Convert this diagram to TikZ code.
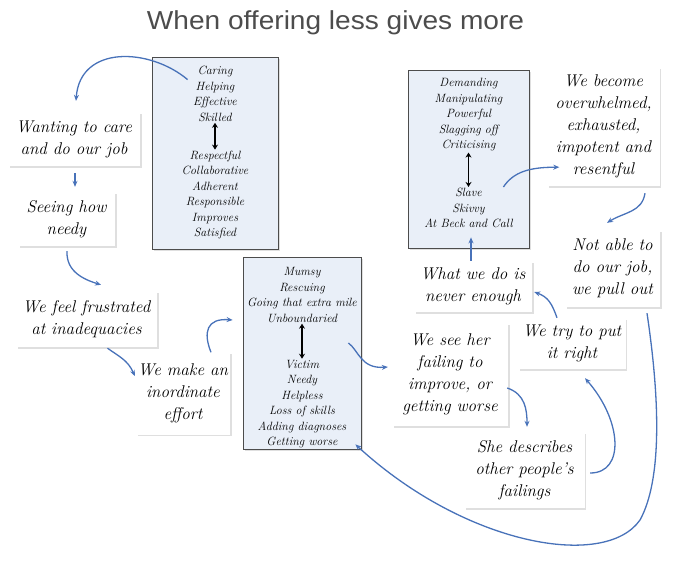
\documentclass[tikz,border=0pt]{standalone}
\usepackage{fontspec}
\newfontfamily\titlefont{Liberation Sans}[FakeStretch=1.08]
\usetikzlibrary{arrows.meta,shadows}
\definecolor{linkblue}{RGB}{72,114,185}
\definecolor{rolefill}{RGB}{233,239,248}

\begin{document}
\begin{tikzpicture}[x=1pt,y=1pt,
  card/.style={fill=white, drop shadow={shadow xshift=1.5pt, shadow yshift=-1.5pt, opacity=0.25}, align=center, inner sep=0pt, font=\fontsize{17}{22}\selectfont\itshape},
  rolebox/.style={draw=black!70, line width=0.8pt, fill=rolefill, drop shadow={shadow xshift=1.5pt, shadow yshift=-1.5pt, opacity=0.25}, inner sep=0pt},
  rolelist/.style={align=center, inner sep=0pt, font=\fontsize{12}{15.5}\selectfont\itshape},
  flip/.style={{Stealth[length=5pt,width=6pt]}-{Stealth[length=5pt,width=6pt]}, line width=1.3pt, shorten <=1pt, shorten >=1pt},
  link/.style={-{Stealth[length=6pt,width=5pt]}, draw=linkblue, line width=1.3pt}]
\useasboundingbox (0,0) rectangle (679,-570);
\node[anchor=base, font=\titlefont\fontsize{26}{30}\selectfont, text=black!70] (title) at (335.5,-29) {When offering less gives more};

% role boxes
\node[rolebox, minimum width=126, minimum height=192] (box1) at (215,-153) {};
\node[rolebox, minimum width=118, minimum height=192] (box2) at (302,-353) {};
\node[rolebox, minimum width=121, minimum height=178] (box3) at (468.5,-159) {};
\node[rolelist] (care1) at (215,-94) {Caring\\Helping\\Effective\\Skilled};
\node[rolelist] (care2) at (215,-195) {Respectful\\Collaborative\\Adherent\\Responsible\\Improves\\Satisfied};
\node[rolelist] (rescue1) at (302,-295) {Mumsy\\Rescuing\\Going that extra mile\\Unboundaried};
\node[rolelist] (rescue2) at (302,-404) {Victim\\Needy\\Helpless\\Loss of skills\\Adding diagnoses\\Getting worse};
\node[rolelist] (demand1) at (468.5,-115) {Demanding\\Manipulating\\Powerful\\Slagging off\\Criticising};
\node[rolelist] (demand2) at (468.5,-208) {Slave\\Skivvy\\At Beck and Call};
\draw[flip] (care1.south) -- (care2.north);
\draw[flip] (rescue1.south) -- (rescue2.north);
\draw[flip] (demand1.south) -- (demand2.north);

% steps of the cycle
\node[card, minimum width=132, minimum height=54] (want) at (74,-139) {Wanting to care\\and do our job};
\node[card, minimum width=97, minimum height=54] (seeing) at (66.5,-219) {Seeing how\\needy};
\node[card, minimum width=141, minimum height=56] (frust) at (86.5,-319) {We feel frustrated\\at inadequacies};
\node[card, minimum width=94, minimum height=82] (effort) at (183,-393.5) {We make an\\inordinate\\effort};
\node[card, minimum width=116, minimum height=103] (seeher) at (450,-374.5) {We see her\\failing to\\improve, or\\getting worse};
\node[card, minimum width=120, minimum height=76] (describes) at (524.5,-470) {She describes\\other people's\\failings};
\node[card, minimum width=107, minimum height=51] (tryput) at (572,-343.5) {We try to put\\it right};
\node[card, minimum width=118, minimum height=51] (never) at (473,-286.5) {What we do is\\never enough};
\node[card, minimum width=112, minimum height=119] (overwh) at (603.5,-126.5) {We become\\overwhelmed,\\exhausted,\\impotent and\\resentful};
\node[card, minimum width=95, minimum height=77] (notable) at (612.5,-268.5) {Not able to\\do our job,\\we pull out};

% links
\draw[link] ([shift={(36,-23)}]box1.north west) .. controls +(-38,32) and +(4,56) .. ([shift={(2,11)}]want.north);
\draw[link] ([shift={(1,-7)}]want.south) -- ([shift={(8.5,5)}]seeing.north);
\draw[link] ([shift={(0.5,-5)}]seeing.south) .. controls +(-1,-21) and +(-16,5) .. ([shift={(14.5,6)}]frust.north);
\draw[link] ([shift={(21,-1)}]frust.south) .. controls +(11,-8) and +(-7,16) .. ([shift={(-1,17.5)}]effort.west);
\draw[link] ([shift={(28,0)}]effort.north) .. controls +(-8,20) and +(-26,2) .. ([shift={(-10,33)}]box2.west);
\draw[link] ([shift={(-13,10)}]box2.east) .. controls +(10,-7) and +(-27,-2) .. ([shift={(-4,7.5)}]seeher.west);
\draw[link] ([shift={(-1,-13.5)}]seeher.east) .. controls +(18,-6) and +(0,17) .. ([shift={(2.5,5)}]describes.north);
\draw[link] ([shift={(5.5,-3)}]describes.east) .. controls +(35,0) and +(37,-42) .. ([shift={(13,-9)}]tryput.south);
\draw[link] ([shift={(-15,0)}]tryput.north) .. controls +(-5,14) and +(14,-5) .. ([shift={(2,-5.5)}]never.east);
\draw[link] ([shift={(-2,0)}]never.north) -- ([shift={(2.5,11)}]box3.south);
\draw[link] ([shift={(-26,-28)}]box3.east) .. controls +(10,15) and +(-30,0) .. ([shift={(12,19)}]overwh.south west);
\draw[link] ([shift={(41.5,-7)}]overwh.south) .. controls +(-3,-19) and +(18,11) .. ([shift={(-5.5,7)}]notable.north);
\draw[link] ([shift={(34.5,-6)}]notable.south) .. controls +(13,-87) and +(22,40) .. (640,-520)
  .. controls +(-35,-50) and +(110,-101) .. ([shift={(-6,5)}]box2.south east);
\end{tikzpicture}
\end{document}
